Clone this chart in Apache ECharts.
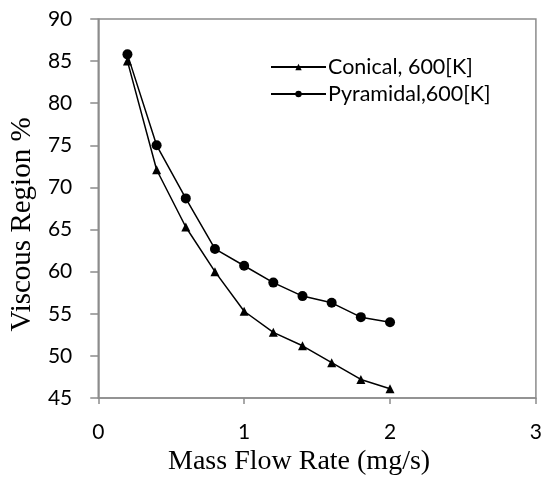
<!DOCTYPE html>
<html>
<head>
<meta charset="utf-8">
<script src="https://cdn.jsdelivr.net/npm/echarts@6/dist/echarts.min.js"></script>
<style>html,body{margin:0;padding:0;background:#fff}#c{width:545px;height:481px}</style>
</head>
<body>
<div id="c"></div>
<script>
const massFlow = [0.2, 0.4, 0.6, 0.8, 1.0, 1.2, 1.4, 1.6, 1.8, 2.0];
const conical = [85.0, 72.1, 65.3, 60.0, 55.3, 52.8, 51.2, 49.2, 47.2, 46.1];
const pyramidal = [85.8, 75.0, 68.7, 62.7, 60.7, 58.7, 57.1, 56.3, 54.6, 54.0];
const seriesNames = ['Conical, 600[K]', 'Pyramidal,600[K]'];
const xTitle = 'Mass Flow Rate (mg/s)';
const yTitle = 'Viscous Region %';

const chart = echarts.init(document.getElementById('c'), null, {renderer: 'canvas'});
const pair = (xs, ys) => xs.map((x, i) => [x, ys[i]]);
const tickFont = {fontFamily: 'Lato', fontSize: 21, color: '#000'};
chart.setOption({
  animation: false,
  backgroundColor: '#fff',
  grid: {left: 98, right: 6, top: 19, bottom: 83, show: true, borderColor: '#8c8c8c', borderWidth: 1.5},
  legend: {
    left: 270, top: 56, padding: 0, orient: 'vertical', itemWidth: 55, itemHeight: 8, itemGap: 5,
    textStyle: {fontFamily: 'Lato', fontSize: 21.5, color: '#000', padding: [0, 0, 0, -3]},
    data: seriesNames
  },
  xAxis: {
    type: 'value', min: 0, max: 3, interval: 1,
    name: xTitle, nameLocation: 'middle', nameGap: 50,
    nameTextStyle: {fontFamily: 'Liberation Serif', fontSize: 28, color: '#000', padding: [0, 36, 0, 0]},
    axisLine: {show: true, lineStyle: {color: '#8c8c8c', width: 1.5}},
    axisTick: {show: true, length: 6, lineStyle: {color: '#8c8c8c', width: 1.5}},
    axisLabel: Object.assign({margin: 24}, tickFont),
    splitLine: {show: false}
  },
  yAxis: {
    type: 'value', min: 45, max: 90, interval: 5,
    name: yTitle, nameLocation: 'middle', nameGap: 60,
    nameTextStyle: {fontFamily: 'Liberation Serif', fontSize: 29, color: '#000', padding: [0, 32, 0, 0]},
    axisLine: {show: true, lineStyle: {color: '#8c8c8c', width: 1.5}},
    axisTick: {show: true, inside: false, length: 8, lineStyle: {color: '#8c8c8c', width: 1.5}},
    axisLabel: Object.assign({margin: 26}, tickFont),
    splitLine: {show: false}
  },
  series: [
    {name: seriesNames[0], type: 'line', data: pair(massFlow, conical),
     symbol: 'triangle', symbolSize: 9, lineStyle: {color: '#000', width: 1.5},
     itemStyle: {color: '#000'}},
    {name: seriesNames[1], type: 'line', data: pair(massFlow, pyramidal),
     symbol: 'circle', symbolSize: 10, lineStyle: {color: '#000', width: 1.5},
     itemStyle: {color: '#000'}}
  ]
});
</script>
</body>
</html>
